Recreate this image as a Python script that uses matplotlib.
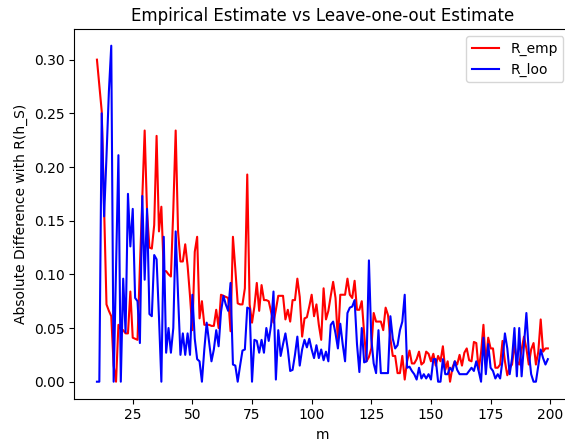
import matplotlib
matplotlib.use("Agg")
import matplotlib.pyplot as plt
import numpy as np

m_values = list(range(10, 200))

r_emp = [
    0.300, 0.276, 0.252, 0.160, 0.072, 0.066, 0.061, 0.015, 0.000, 0.053,   # 10-19
    0.049, 0.048, 0.045, 0.045, 0.084, 0.041, 0.040, 0.039, 0.107, 0.170,   # 20-29
    0.234, 0.158, 0.125, 0.124, 0.146, 0.229, 0.140, 0.163, 0.103, 0.103,   # 30-39
    0.100, 0.098, 0.160, 0.234, 0.140, 0.112, 0.112, 0.128, 0.108, 0.080,   # 40-49
    0.048, 0.121, 0.135, 0.059, 0.075, 0.053, 0.053, 0.053, 0.052, 0.052,   # 50-59
    0.067, 0.050, 0.081, 0.080, 0.079, 0.078, 0.047, 0.135, 0.105, 0.073,   # 60-69
    0.072, 0.072, 0.087, 0.193, 0.072, 0.055, 0.070, 0.092, 0.066, 0.090,   # 70-79
    0.076, 0.076, 0.075, 0.065, 0.055, 0.067, 0.080, 0.080, 0.080, 0.058,   # 80-89
    0.067, 0.056, 0.076, 0.076, 0.096, 0.079, 0.042, 0.059, 0.060, 0.070,   # 90-99
    0.081, 0.061, 0.072, 0.053, 0.039, 0.087, 0.058, 0.066, 0.080, 0.093,   # 100-109
    0.078, 0.038, 0.081, 0.081, 0.081, 0.096, 0.081, 0.078, 0.094, 0.067,   # 110-119
    0.067, 0.075, 0.045, 0.019, 0.023, 0.031, 0.064, 0.056, 0.056, 0.056,   # 120-129
    0.048, 0.069, 0.062, 0.040, 0.024, 0.024, 0.008, 0.008, 0.024, 0.002,   # 130-139
    0.019, 0.029, 0.017, 0.017, 0.021, 0.028, 0.016, 0.018, 0.028, 0.026,   # 140-149
    0.019, 0.026, 0.015, 0.024, 0.019, 0.033, 0.011, 0.019, 0.000, 0.013,   # 150-159
    0.019, 0.016, 0.025, 0.015, 0.027, 0.031, 0.020, 0.019, 0.037, 0.036,   # 160-169
    0.011, 0.027, 0.053, 0.016, 0.041, 0.031, 0.031, 0.013, 0.013, 0.016,   # 170-179
    0.038, 0.019, 0.006, 0.013, 0.016, 0.035, 0.019, 0.016, 0.030, 0.042,   # 180-189
    0.031, 0.016, 0.030, 0.036, 0.016, 0.028, 0.058, 0.028, 0.031, 0.031,   # 190-199
]

r_loo = [
    0.000, 0.000, 0.250, 0.154, 0.210, 0.270, 0.313, 0.000, 0.105, 0.211,   # 10-19
    0.000, 0.096, 0.046, 0.175, 0.126, 0.161, 0.078, 0.075, 0.036, 0.173,   # 20-29
    0.095, 0.161, 0.063, 0.061, 0.118, 0.114, 0.060, 0.000, 0.135, 0.027,   # 30-39
    0.050, 0.027, 0.050, 0.140, 0.080, 0.025, 0.045, 0.025, 0.045, 0.025,   # 40-49
    0.081, 0.040, 0.021, 0.019, 0.000, 0.030, 0.055, 0.037, 0.019, 0.030,   # 50-59
    0.048, 0.033, 0.065, 0.080, 0.072, 0.066, 0.092, 0.016, 0.015, 0.000,   # 60-69
    0.015, 0.029, 0.030, 0.069, 0.068, 0.000, 0.039, 0.038, 0.027, 0.039,   # 70-79
    0.027, 0.050, 0.038, 0.053, 0.084, 0.002, 0.048, 0.024, 0.035, 0.045,   # 80-89
    0.030, 0.010, 0.011, 0.025, 0.042, 0.015, 0.030, 0.039, 0.032, 0.040,   # 90-99
    0.030, 0.022, 0.034, 0.022, 0.030, 0.020, 0.028, 0.019, 0.053, 0.056,   # 100-109
    0.045, 0.031, 0.054, 0.035, 0.019, 0.064, 0.069, 0.070, 0.076, 0.035,   # 110-119
    0.009, 0.050, 0.018, 0.019, 0.113, 0.040, 0.017, 0.008, 0.048, 0.008,   # 120-129
    0.008, 0.008, 0.008, 0.061, 0.040, 0.031, 0.034, 0.048, 0.056, 0.081,   # 130-139
    0.013, 0.014, 0.010, 0.007, 0.002, 0.013, 0.003, 0.007, 0.003, 0.007,   # 140-149
    0.002, 0.021, 0.021, 0.000, 0.000, 0.021, 0.007, 0.007, 0.013, 0.010,   # 150-159
    0.019, 0.011, 0.007, 0.007, 0.007, 0.007, 0.010, 0.013, 0.010, 0.019,   # 160-169
    0.010, 0.000, 0.041, 0.007, 0.035, 0.013, 0.010, 0.003, 0.007, 0.003,   # 170-179
    0.020, 0.045, 0.031, 0.007, 0.022, 0.050, 0.005, 0.050, 0.005, 0.035,   # 180-189
    0.064, 0.028, 0.007, 0.000, 0.000, 0.015, 0.030, 0.022, 0.016, 0.021,   # 190-199
]

fig = plt.figure(figsize=(5.65, 4.41), dpi=100)
ax = fig.add_axes([74.4 / 565, (441 - 398.5) / 441, 496 / 565, 369.6 / 441])
ax.plot(m_values, r_emp, color="red", label="R_emp")
ax.plot(m_values, r_loo, color="blue", label="R_loo")
ax.set_title("Empirical Estimate vs Leave-one-out Estimate")
ax.set_xlabel("m")
ax.set_ylabel("Absolute Difference with R(h_S)")
ax.legend(loc="upper right")
fig.savefig("out.png", dpi=100)
